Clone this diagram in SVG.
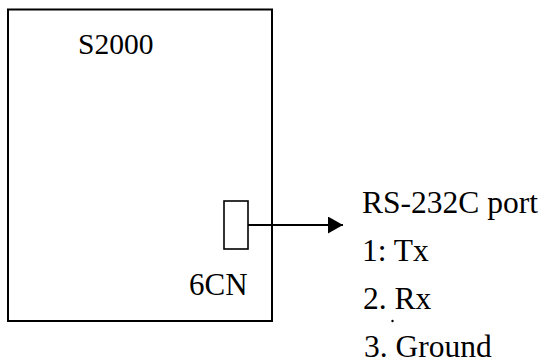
<svg xmlns="http://www.w3.org/2000/svg" width="542" height="362" viewBox="0 0 542 362">
<style>
.t{font-family:'Liberation Serif','Times New Roman',serif;font-size:31.5px;fill:#000}
.box{fill:none;stroke:#000;stroke-width:2}
.port{fill:none;stroke:#000;stroke-width:1.6}
.conn{stroke:#000;stroke-width:2;fill:none}
</style>
<defs>
<marker id="arr" markerUnits="userSpaceOnUse" markerWidth="16" markerHeight="18" refX="15" refY="8.5" orient="auto">
<path d="M0,0 L15,8.5 L0,17 Z" fill="#000"/>
</marker>
</defs>
<rect width="542" height="362" fill="#fff"/>
<g id="s2000">
<rect class="box" x="8" y="9.5" width="264" height="311.5"/>
<text class="t" x="78" y="54" style="font-size:29.5px">S2000</text>
</g>
<g id="port6cn">
<rect class="port" x="224" y="201" width="24" height="48"/>
<text class="t" x="189" y="295" style="font-size:31px">6CN</text>
</g>
<g id="connectors">
<line class="conn" x1="248" y1="225" x2="343" y2="225" marker-end="url(#arr)"/>
</g>
<g id="rs232">
<text class="t" x="362" y="213">RS-232C port</text>
<text class="t" x="362" y="261">1: Tx</text>
<text class="t" x="363" y="309">2. Rx</text>
<circle cx="392.5" cy="321" r="1.2" fill="#000"/>
<text class="t" x="364" y="357">3. Ground</text>
</g>
</svg>
